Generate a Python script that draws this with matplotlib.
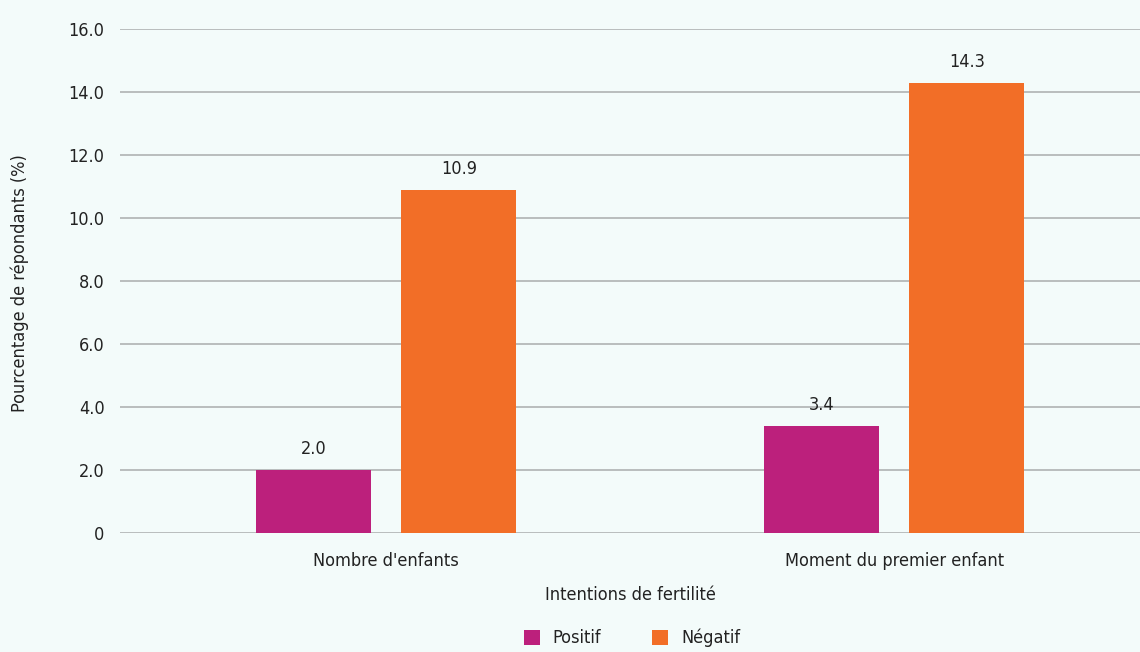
import matplotlib
matplotlib.use('Agg')
import matplotlib.pyplot as plt
import numpy as np

categories = ["Nombre d'enfants", "Moment du premier enfant"]
positif = [2.0, 3.4]
negatif = [10.9, 14.3]
series_names = ["Positif", "Négatif"]
yticks = [0, 2, 4, 6, 8, 10, 12, 14, 16]
ytick_labels = ["0", "2.0", "4.0", "6.0", "8.0", "10.0", "12.0", "14.0", "16.0"]

plt.rcParams['font.family'] = ['DejaVu Sans']
plt.rcParams['font.stretch'] = 'condensed'

bg = '#f3fbfa'
text_col = '#222222'
fig = plt.figure(figsize=(11.4, 6.52), dpi=100, facecolor=bg)
ax = fig.add_axes([120 / 1140, 1 - 533 / 652, 1020 / 1140, 504 / 652])
ax.set_facecolor(bg)

x = np.arange(len(categories))
w = 0.226
off = 0.143
b1 = ax.bar(x - off, positif, w, color='#bc207c', label=series_names[0], zorder=3)
b2 = ax.bar(x + off, negatif, w, color='#f26e27', label=series_names[1], zorder=3)

for bars in (b1, b2):
    for r in bars:
        ax.text(r.get_x() + r.get_width() / 2, r.get_height() + 0.38,
                f"{r.get_height():.1f}", ha='center', va='bottom',
                fontsize=13, color=text_col)

ax.set_xlim(-0.524, 1.484)
ax.set_ylim(0, 16)
ax.set_yticks(yticks)
ax.set_yticklabels(ytick_labels)
ax.grid(axis='y', color='#b4b8b8', linewidth=1.3, zorder=0)
for s in ax.spines.values():
    s.set_visible(False)
ax.tick_params(axis='y', length=0, labelsize=13, colors=text_col, pad=11)
ax.tick_params(axis='x', length=0, labelsize=13, colors=text_col, pad=14)
ax.set_xticks(x)
ax.set_xticklabels(categories)

ax.set_xlabel("Intentions de fertilité", fontsize=13, color=text_col, labelpad=11)
fig.text(20 / 1140, 1 - 283 / 652, "Pourcentage de répondants (%)", rotation=90,
         ha='center', va='center', fontsize=13, color=text_col)

fig.legend(handles=[b1, b2], loc='center', bbox_to_anchor=(632 / 1140, 1 - 638 / 652),
           ncol=2, frameon=False, fontsize=13, handlelength=0.9, handleheight=0.9,
           columnspacing=2.8, handletextpad=0.7, labelcolor=text_col)

plt.savefig('out.png', facecolor=bg)
